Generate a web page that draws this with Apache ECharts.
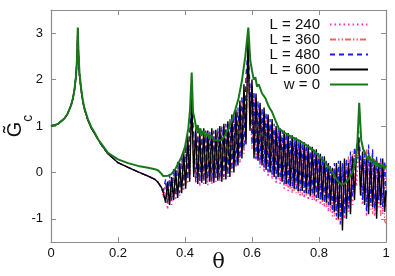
<html>
<head>
<meta charset="utf-8">
<title>Gc vs theta</title>
<style>
    body { margin: 0; background: #fff; }
    #chart { width: 395px; height: 276px; }
</style>
</head>
<body>
<div id="chart"></div>
<script src="https://cdn.jsdelivr.net/npm/echarts@6/dist/echarts.min.js"></script>
<script>
    // w = 0 curve
    var thetaW0 = [0, 0.02, 0.04, 0.05, 0.06, 0.065, 0.07, 0.075, 0.078, 0.08,
        0.082, 0.085, 0.09, 0.095, 0.1, 0.11, 0.12, 0.13, 0.14, 0.15,
        0.17, 0.2, 0.23, 0.26, 0.29, 0.31, 0.32, 0.33, 0.335, 0.34,
        0.35, 0.36, 0.37, 0.38, 0.39, 0.40, 0.41, 0.415, 0.42, 0.424,
        0.43, 0.434, 0.438, 0.442, 0.446, 0.45, 0.455, 0.46, 0.466, 0.472,
        0.478, 0.485, 0.49, 0.5, 0.51, 0.52, 0.53, 0.54, 0.55, 0.56,
        0.57, 0.58, 0.589, 0.595, 0.6, 0.605, 0.61, 0.615, 0.62, 0.63,
        0.64, 0.65, 0.66, 0.67, 0.68, 0.7, 0.72, 0.74, 0.76, 0.78,
        0.8, 0.82, 0.84, 0.855, 0.868, 0.88, 0.89, 0.9, 0.908, 0.914,
        0.92, 0.926, 0.932, 0.94, 0.945, 0.95, 0.955, 0.96, 0.965, 0.97,
        0.975, 0.98, 0.985, 0.99, 0.995, 1.0];
    var gW0 = [1.0, 1.04, 1.16, 1.27, 1.45, 1.58, 1.78, 2.1, 2.5, 3.12,
        2.6, 2.15, 1.8, 1.55, 1.38, 1.15, 0.98, 0.86, 0.72, 0.62,
        0.42, 0.28, 0.2, 0.14, 0.1, 0.07, 0.04, -0.03, -0.08, -0.09,
        -0.07, -0.03, 0.06, 0.19, 0.34, 0.55, 0.95, 1.35, 2.15, 1.3,
        1.1, 0.9, 1.02, 0.84, 0.95, 0.8, 0.9, 0.76, 0.85, 0.73,
        0.8, 0.7, 0.74, 0.69, 0.7, 0.8, 0.95, 1.12, 1.35, 1.6,
        1.98, 2.5, 3.12, 2.4, 2.2, 2.0, 2.05, 1.85, 1.9, 1.7,
        1.6, 1.42, 1.3, 1.12, 0.95, 0.84, 0.76, 0.69, 0.6, 0.5,
        0.35, 0.2, 0.0, -0.18, -0.27, -0.22, -0.12, 0.0, 0.2, 0.55,
        1.5, 0.7, 0.5, 0.38, 0.28, 0.35, 0.22, 0.3, 0.16, 0.25,
        0.12, 0.2, 0.1, 0.18, 0.08, 0.15];

    // finite L: common smooth part below theta = 0.335
    var thetaSmooth = [0, 0.02, 0.04, 0.05, 0.06, 0.065, 0.07, 0.075, 0.078, 0.08,
        0.082, 0.085, 0.09, 0.095, 0.1, 0.11, 0.12, 0.13, 0.14, 0.15,
        0.17, 0.2, 0.23, 0.26, 0.29, 0.31, 0.32, 0.33];
    var gSmoothL = [1.0, 1.04, 1.16, 1.27, 1.45, 1.58, 1.78, 2.1, 2.5, 3.1,
        2.55, 2.1, 1.78, 1.53, 1.36, 1.13, 0.96, 0.84, 0.72, 0.6,
        0.4, 0.21, 0.11, 0.01, -0.08, -0.15, -0.22, -0.33];

    // oscillating part, sampled every 0.006 from 0.336 (last point at 1)
    var oscStart = 0.336, oscStep = 0.006;

    var gL240 = [-0.55, -0.2, -0.8, -0.1, -0.7, 0.0, -0.6, 0.15, -0.5, 0.3,
        -0.4, 0.5, -0.25, 0.75, 1.3, 0.7, -0.25, 0.8, -0.3, 0.75,
        -0.25, 0.8, -0.28, 0.8, -0.25, 0.85, -0.2, 0.9, -0.2, 0.95,
        -0.15, 1.0, -0.1, 1.1, 0.0, 1.2, 0.1, 1.3, 0.2, 1.5,
        0.4, 1.9, 2.3, 1.7, 0.5, 1.6, 0.25, 1.45, 0.1, 1.3,
        0.0, 1.2, -0.1, 1.05, -0.15, 0.95, -0.25, 0.9, -0.25, 0.8,
        -0.35, 0.75, -0.4, 0.7, -0.45, 0.65, -0.45, 0.6, -0.5, 0.55,
        -0.55, 0.5, -0.6, 0.45, -0.6, 0.4, -0.65, 0.35, -0.7, 0.25,
        -0.75, 0.15, -0.85, 0.05, -0.95, 0.1, -1.05, 0.15, -1.15, 0.1,
        -1.0, 0.2, -0.85, 0.3, -0.7, 0.45, -0.3, 0.6, 0.1, -0.7,
        0.4, -0.95, 0.45, -0.8, 0.4, -0.95, 0.3, -0.75, 0.25, -0.9,
        0.2, -0.8];

    var gL360 = [-0.5, -0.55, -0.3, -0.65, -0.15, -0.55, 0.0, -0.5, 0.15, -0.4,
        0.35, -0.3, 0.7, -0.15, 1.5, 0.0, 0.85, -0.2, 0.8, -0.15,
        0.85, -0.2, 0.8, -0.15, 0.9, -0.18, 0.85, -0.1, 0.95, -0.1,
        1.0, -0.05, 1.05, 0.05, 1.15, 0.15, 1.3, 0.25, 1.45, 0.4,
        1.75, 0.7, 2.4, 1.0, 1.85, 0.45, 1.6, 0.3, 1.45, 0.2,
        1.3, 0.1, 1.2, 0.0, 1.05, -0.05, 0.95, -0.15, 0.9, -0.2,
        0.85, -0.3, 0.8, -0.35, 0.75, -0.4, 0.7, -0.45, 0.65, -0.5,
        0.6, -0.5, 0.55, -0.55, 0.5, -0.6, 0.42, -0.6, 0.35, -0.7,
        0.25, -0.75, 0.15, -0.85, 0.05, -0.95, 0.1, -1.05, 0.2, -0.95,
        0.25, -0.8, 0.35, -0.6, 0.45, -0.4, 0.55, 0.65, -0.45, 0.4,
        -0.6, 0.5, -0.75, 0.35, -0.9, 0.3, -0.8, 0.2, -0.95, 0.15,
        -1.05, -1.1];

    var gL480 = [-0.4, -0.15, -0.65, -0.05, -0.6, 0.1, -0.5, 0.25, -0.45, 0.4,
        -0.3, 0.6, -0.15, 0.9, 1.45, 0.85, -0.2, 0.9, -0.2, 0.85,
        -0.18, 0.9, -0.15, 0.88, -0.2, 0.9, -0.12, 0.95, -0.15, 1.0,
        -0.1, 1.05, -0.05, 1.15, 0.05, 1.25, 0.15, 1.4, 0.3, 1.65,
        0.5, 2.1, 2.6, 1.9, 0.6, 1.75, 0.3, 1.55, 0.2, 1.4,
        0.1, 1.3, 0.0, 1.15, -0.05, 1.05, -0.15, 0.95, -0.15, 0.9,
        -0.25, 0.85, -0.3, 0.8, -0.3, 0.75, -0.35, 0.7, -0.4, 0.65,
        -0.45, 0.6, -0.45, 0.55, -0.5, 0.5, -0.55, 0.42, -0.6, 0.35,
        -0.65, 0.25, -0.7, 0.15, -0.85, 0.2, -0.95, 0.25, -1.1, 0.2,
        -0.9, 0.3, -0.75, 0.45, -0.5, 0.55, 0.2, 0.9, 0.3, -0.6,
        0.5, -0.85, 0.6, -0.7, 0.5, -0.8, 0.35, -0.6, 0.3, -0.75,
        0.25, -0.5];

    var gL600 = [-0.45, -0.65, -0.2, -0.7, -0.1, -0.6, 0.05, -0.55, 0.2, -0.45,
        0.45, -0.35, 0.8, -0.2, 1.6, -0.1, 0.95, -0.25, 0.9, -0.22,
        0.95, -0.25, 0.9, -0.2, 0.95, -0.22, 0.92, -0.18, 1.0, -0.2,
        1.05, -0.15, 1.1, -0.1, 1.25, 0.0, 1.35, 0.15, 1.55, 0.3,
        1.9, 0.6, 2.9, 0.9, 2.0, 0.3, 1.7, 0.25, 1.5, 0.15,
        1.4, 0.05, 1.25, 0.0, 1.15, -0.1, 1.0, -0.1, 0.95, -0.2,
        0.9, -0.25, 0.85, -0.3, 0.8, -0.35, 0.75, -0.4, 0.7, -0.4,
        0.65, -0.45, 0.6, -0.5, 0.55, -0.5, 0.5, -0.55, 0.4, -0.6,
        0.35, -0.65, 0.2, -0.7, 0.1, -0.85, 0.2, -1.0, 0.25, -1.25,
        0.3, -1.0, 0.2, -0.9, 0.35, -0.6, 0.5, 0.75, -0.5, 0.45,
        -0.7, 0.35, -0.9, 0.3, -0.75, 0.25, -1.0, 0.2, -0.7, 0.3,
        -0.85, -0.4];

    var xTicks = [0, 0.2, 0.4, 0.6, 0.8, 1];
    var yTicks = [-1, 0, 1, 2, 3];

    function pairs(xs, ys) {
        var out = [];
        for (var i = 0; i < ys.length; i++) out.push([xs[i], ys[i]]);
        return out;
    }

    function finiteL(osc) {
        var out = pairs(thetaSmooth, gSmoothL);
        for (var i = 0; i < osc.length; i++) {
            var t = Math.min(oscStart + oscStep * i, 1);
            out.push([+t.toFixed(3), osc[i]]);
        }
        return out;
    }

    var font = 'Liberation Sans';
    var axisGray = '#8c8c8c';

    function lineSeries(name, data, color, width, dash) {
        return {
            name: name,
            type: 'line',
            data: data,
            symbol: 'none',
            animation: false,
            lineStyle: { color: color, width: width, type: dash },
            itemStyle: { color: color }
        };
    }

    var chart = echarts.init(document.getElementById('chart'));

    chart.setOption({
        backgroundColor: '#fff',
        animation: false,
        grid: { left: 51, right: 9, top: 10, bottom: 34, outerBoundsMode: 'none', containLabel: false },
        legend: {
            orient: 'vertical',
            right: 21,
            top: 12,
            align: 'right',
            itemWidth: 38,
            itemHeight: 14,
            itemGap: 0,
            data: ['L = 240', 'L = 360', 'L = 480', 'L = 600', 'w = 0'],
            itemStyle: { opacity: 0 },
            textStyle: { fontFamily: font, fontSize: 15, color: '#111', lineHeight: 14, padding: [0, 5, 0, 0] }
        },
        xAxis: [{
            type: 'value', min: 0, max: 1, interval: 0.2,
            name: 'θ', nameLocation: 'middle', nameGap: 10, nameMoveOverlap: false,
            nameTextStyle: { fontFamily: 'DejaVu Serif', fontSize: 21, color: '#111' },
            axisLine: { onZero: false, lineStyle: { color: axisGray, width: 1.2 } },
            axisTick: { inside: true, length: 5, lineStyle: { color: axisGray } },
            axisLabel: { fontFamily: font, fontSize: 13, color: '#111', margin: 5,
                customValues: xTicks },
            splitLine: { show: false }
        }, {
            type: 'value', min: 0, max: 1, interval: 0.2, position: 'top',
            axisLine: { onZero: false, lineStyle: { color: axisGray, width: 1.2 } },
            axisTick: { inside: true, length: 5, lineStyle: { color: axisGray } },
            axisLabel: { show: false },
            splitLine: { show: false }
        }],
        yAxis: [{
            type: 'value', min: -1.5, max: 3.5,
            name: '{g|G\u0303}{c|c}', nameLocation: 'middle', nameRotate: 90, nameGap: 16,
            nameMoveOverlap: false,
            nameTextStyle: {
                rich: {
                    g: { fontFamily: font, fontSize: 20, color: '#111', lineHeight: 30, verticalAlign: 'top' },
                    c: { fontFamily: font, fontSize: 14, color: '#111', lineHeight: 30, verticalAlign: 'bottom' }
                }
            },
            axisLine: { onZero: false, lineStyle: { color: axisGray, width: 1.2 } },
            axisTick: { inside: true, length: 5, lineStyle: { color: axisGray }, customValues: yTicks },
            axisLabel: { fontFamily: font, fontSize: 13, color: '#111', margin: 8, customValues: yTicks },
            splitLine: { show: false }
        }, {
            type: 'value', min: -1.5, max: 3.5, position: 'right',
            axisLine: { onZero: false, lineStyle: { color: axisGray, width: 1.2 } },
            axisTick: { inside: true, length: 5, lineStyle: { color: axisGray }, customValues: yTicks },
            axisLabel: { show: false },
            splitLine: { show: false }
        }],
        series: [
            lineSeries('L = 240', finiteL(gL240), '#ff2fb8', 1.6, [1.5, 3]),
            lineSeries('L = 360', finiteL(gL360), '#f06464', 1.3, [6, 2, 1.5, 2, 1.5, 2]),
            lineSeries('L = 480', finiteL(gL480), '#1a1aff', 1.3, [5, 4]),
            lineSeries('L = 600', finiteL(gL600), '#000000', 1.4, 'solid'),
            lineSeries('w = 0', pairs(thetaW0, gW0), '#187818', 2, 'solid')
        ]
    });
</script>
</body>
</html>
